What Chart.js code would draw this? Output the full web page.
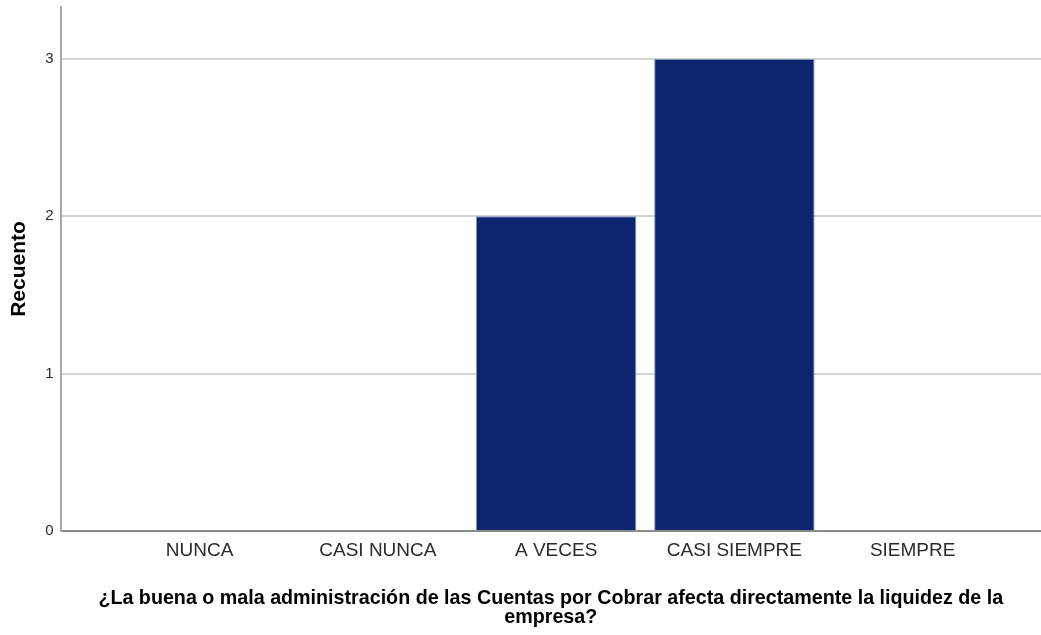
<!DOCTYPE html>
<html>
<head>
<meta charset="utf-8">
<script src="https://cdn.jsdelivr.net/npm/chart.js@4/dist/chart.umd.min.js"></script>
<style>
  html, body { margin: 0; padding: 0; background: #fff; }
  #wrap { width: 1041px; height: 635px; }
</style>
</head>
<body>
<div id="wrap"><canvas id="barChart" width="1041" height="635"></canvas></div>
<script>
// Data
const categories = ['NUNCA', 'CASI NUNCA', 'A VECES', 'CASI SIEMPRE', 'SIEMPRE'];
const counts = [0, 0, 2, 3, 0];
const yTicks = [0, 1, 2, 3];
const xTitle = ['¿La buena o mala administración de las Cuentas por Cobrar afecta directamente la liquidez de la', 'empresa?'];
const yTitle = 'Recuento';

const ctx = document.getElementById('barChart').getContext('2d');

// Linear x axis so the category band can be offset like the SPSS output
const points = categories.map((c, i) => ({ x: i, y: counts[i] }));

const chart = new Chart(ctx, {
    type: 'bar',
    data: {
        datasets: [{
            data: points,
            backgroundColor: '#0b266f',
            borderColor: '#7f90c2',
            borderWidth: 1,
            barPercentage: 0.9,
            categoryPercentage: 1.0
        }]
    },
    options: {
        responsive: false,
        animation: false,
        layout: { padding: { top: 7, right: 0, left: 7, bottom: 8 } },
        plugins: {
            legend: { display: false },
            tooltip: { enabled: false }
        },
        scales: {
            x: {
                type: 'linear',
                offset: false,
                min: -0.78,
                max: 4.72,
                grid: { display: false, drawTicks: false },
                border: { display: true, color: '#8a8a8a', width: 2 },
                ticks: {
                    stepSize: 1,
                    includeBounds: false,
                    autoSkip: false,
                    maxRotation: 0,
                    padding: 8,
                    color: '#2b2b2b',
                    font: { family: "'Liberation Sans', Arial, sans-serif", size: 19 },
                    callback: (v) => categories[v] !== undefined ? categories[v] : ''
                },
                title: {
                    display: true,
                    text: xTitle,
                    color: '#000',
                    padding: { top: 19, bottom: 0 },
                    font: { family: "'Liberation Sans', Arial, sans-serif", size: 19.7, weight: 'bold', lineHeight: 0.97 }
                }
            },
            y: {
                min: 0,
                max: 3.33,
                grid: { color: '#d4d4d4', lineWidth: 2, drawTicks: false },
                border: { display: true, color: '#a8a8a8', width: 2 },
                afterBuildTicks: (scale) => { scale.ticks = yTicks.map(v => ({ value: v })); },
                afterFit: (scale) => { scale.paddingTop = 0; },
                ticks: {
                    padding: 7,
                    color: '#2b2b2b',
                    font: { family: "'Liberation Sans', Arial, sans-serif", size: 15 }
                },
                title: {
                    display: true,
                    text: yTitle,
                    color: '#000',
                    padding: { top: 0, bottom: 6 },
                    font: { family: "'Liberation Sans', Arial, sans-serif", size: 21, weight: 'bold' }
                }
            }
        }
    }
});
</script>
</body>
</html>
